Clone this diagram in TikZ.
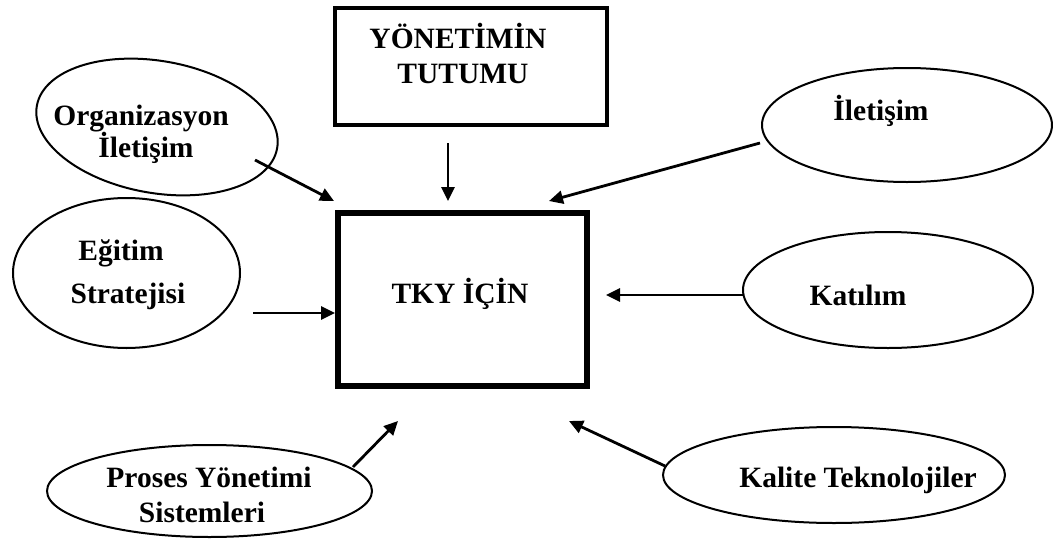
\documentclass[tikz,border=0pt]{standalone}
\usepackage{fontspec}
\setmainfont{Liberation Serif}
\usetikzlibrary{shapes.geometric,arrows.meta}
\begin{document}
\begin{tikzpicture}[x=1pt,y=-1pt,
  lbl/.style={anchor=base,inner sep=0pt,font=\fontsize{29.5}{35}\selectfont\bfseries},
  ell/.style={draw,ellipse,line width=2pt,inner sep=0pt},
  boxx/.style={draw,rectangle,inner sep=0pt},
  arr/.style={line width=2.8pt,-{Triangle[length=14pt,width=13pt]}}]
\useasboundingbox (0,0) rectangle (1053,541);
% boxes
\node[boxx,line width=4.5pt,minimum width=272pt,minimum height=117pt] (yon) at (471,66.5) {};
\node[lbl] (yon1) at (458,48) {YÖNETİMİN};
\node[lbl] (yon2) at (463,83) {TUTUMU};
\node[boxx,line width=5.5pt,minimum width=249pt,minimum height=173pt] (tky) at (462.5,299.5) {};
\node[lbl] (tkyt) at (460,303) {TKY İÇİN};
% ellipses
\node[ell,minimum width=244pt,minimum height=132pt,rotate=-10] (org) at (157,127) {};
\node[lbl] (org1) at (141,125) {Organizasyon};
\node[lbl] (org2) at (146,157) {İletişim};
\node[ell,minimum width=227pt,minimum height=150pt] (egt) at (126.5,273) {};
\node[lbl] (egt1) at (121,260) {Eğitim};
\node[lbl] (egt2) at (128,303) {Stratejisi};
\node[ell,minimum width=290pt,minimum height=114pt] (ilt) at (907,125) {};
\node[lbl] (ilt1) at (881,120) {İletişim};
\node[ell,minimum width=290pt,minimum height=116pt] (kat) at (888,290) {};
\node[lbl] (kat1) at (858,305) {Katılım};
\node[ell,minimum width=325pt,minimum height=92pt] (pro) at (209.5,491) {};
\node[lbl] (pro1) at (209,487) {Proses Yönetimi};
\node[lbl] (pro2) at (202,522) {Sistemleri};
\node[ell,minimum width=342pt,minimum height=96pt] (kal) at (834,475) {};
\node[lbl] (kal1) at (858,487) {Kalite Teknolojiler};
% connector ends
\coordinate (s1) at (448,143); \coordinate (e1) at (448,201);
\coordinate (s2) at (255,160); \coordinate (e2) at (334,201);
\coordinate (s3) at (760,143); \coordinate (e3) at (549,201);
\coordinate (s4) at (253,313); \coordinate (e4) at (335,313);
\coordinate (s5) at (743,295); \coordinate (e5) at (606,295);
\coordinate (s6) at (353,467); \coordinate (e6) at (398,421);
\coordinate (s7) at (665,466); \coordinate (e7) at (569,421);
\draw[arr] (s1) -- (e1);
\draw[arr] (s2) -- (e2);
\draw[arr] (s3) -- (e3);
\draw[arr] (s4) -- (e4);
\draw[arr] (s5) -- (e5);
\draw[arr] (s6) -- (e6);
\draw[arr] (s7) -- (e7);
\end{tikzpicture}
\end{document}
